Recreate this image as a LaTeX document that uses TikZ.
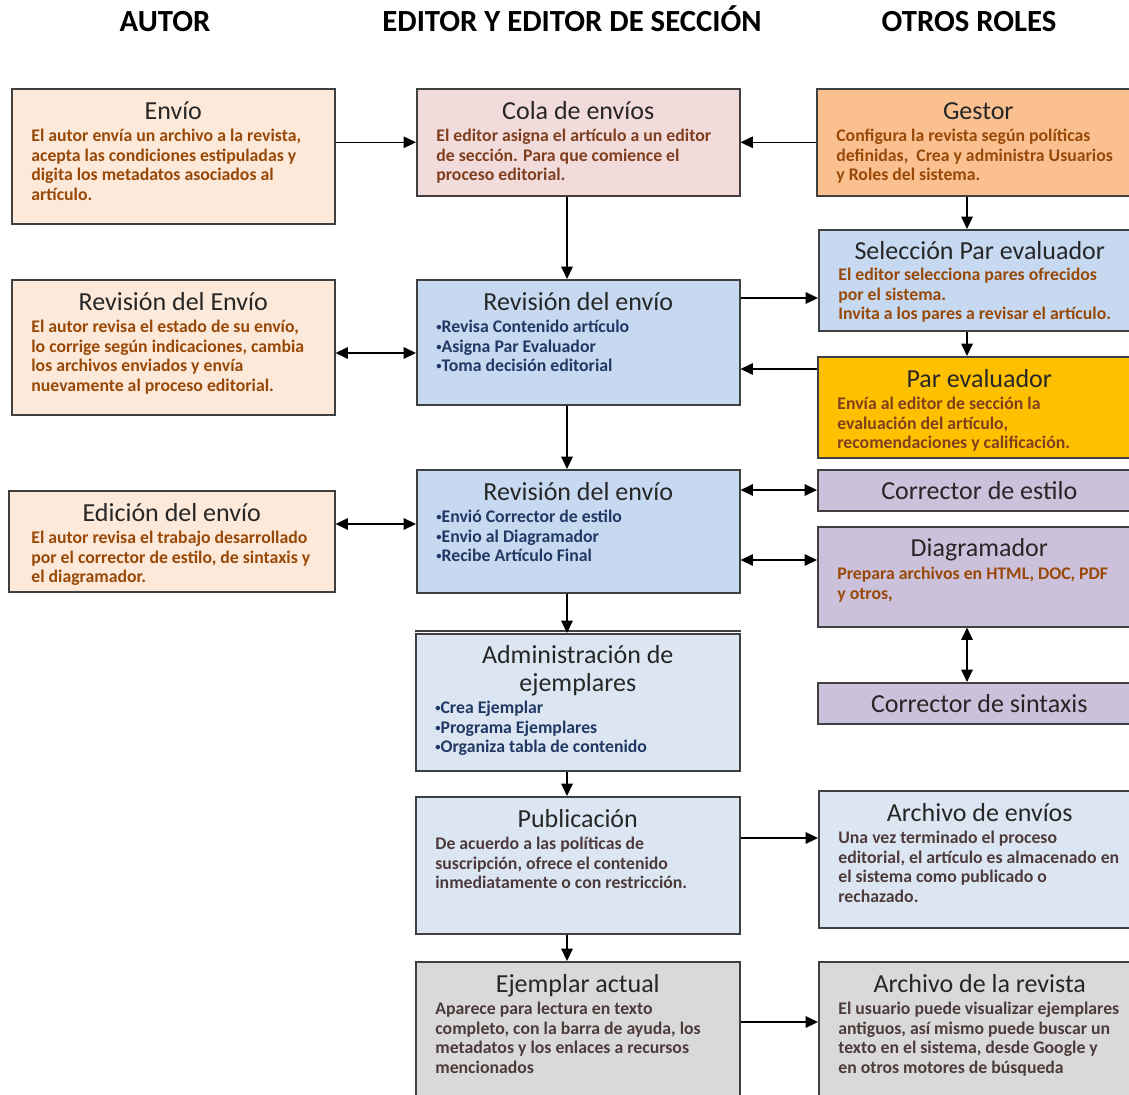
\documentclass[tikz,border=0pt]{standalone}
\usepackage{fontspec}
\setmainfont{Carlito}
\usepackage{tikz}
\usetikzlibrary{arrows.meta}
\definecolor{durazno}{HTML}{FDE9D9}
\definecolor{rosa}{HTML}{F2DCDB}
\definecolor{azul}{HTML}{C6D9F1}
\definecolor{azulclaro}{HTML}{DCE6F2}
\definecolor{naranja}{HTML}{FAC090}
\definecolor{ambar}{HTML}{FFC000}
\definecolor{lila}{HTML}{CCC1DA}
\definecolor{gris}{HTML}{D9D9D9}
\definecolor{borde}{HTML}{404040}
\definecolor{tinta}{HTML}{262626}
\definecolor{cafe}{HTML}{984807}
\definecolor{marron}{HTML}{7F3F1F}
\definecolor{marino}{HTML}{1F3864}
\definecolor{pardo}{HTML}{4D3B3B}
\newcommand{\fuentetitulo}{\fontsize{14.8}{16}\selectfont}
\newcommand{\fuentecuerpo}{\fontsize{10.1}{11.1}\selectfont\bfseries}
\newcommand{\vineta}{\raisebox{.25ex}{\fontsize{6}{6}\selectfont\textbullet}}

\begin{document}
\begin{tikzpicture}[x=0.02cm, y=-0.02cm,
    caja/.style={draw=borde, line width=0.9pt, anchor=north west, inner sep=0pt},
    titulo/.style={anchor=base, inner sep=0pt, text=tinta, font=\fuentetitulo},
    cuerpo/.style={anchor=north west, inner sep=0pt, align=left, font=\fuentecuerpo},
    encabezado/.style={anchor=base, font=\fontsize{17.5}{20}\selectfont\bfseries},
    flecha/.style={-{Triangle[length=7pt,width=6.5pt]}, line width=0.8pt},
    doble/.style={{Triangle[length=7pt,width=6.5pt]}-{Triangle[length=7pt,width=6.5pt]}, line width=0.8pt}]

    \useasboundingbox (0,0) rectangle (1129,1095);
    \clip (0,0) rectangle (1129,1095);

    % encabezados
    \node[encabezado] (autor) at (165,32) {AUTOR};
    \node[encabezado] (editor) at (572,32) {EDITOR Y EDITOR DE SECCIÓN};
    \node[encabezado] (otros) at (969,32) {OTROS ROLES};

    % columna del autor
    \node[caja, fill=durazno, minimum width=6.46cm, minimum height=2.7cm] (envio) at (11,88) {};
    \node[titulo] (envio-tit) at ([shift={(0,31)}]envio.north) {Envío};
    \node[cuerpo, text=cafe] (envio-txt) at ([shift={(20,41)}]envio.north west)
        {El autor envía un archivo a la revista,\\acepta las condiciones estipuladas y\\digita los metadatos asociados al\\artículo.};

    \node[caja, fill=durazno, minimum width=6.46cm, minimum height=2.7cm] (revautor) at (11,279) {};
    \node[titulo] (revautor-tit) at ([shift={(0,31)}]revautor.north) {Revisión del Envío};
    \node[cuerpo, text=cafe] (revautor-txt) at ([shift={(20,41)}]revautor.north west)
        {El autor revisa el estado de su envío,\\lo corrige según indicaciones, cambia\\los archivos enviados y envía\\nuevamente al proceso editorial.};

    \node[caja, fill=durazno, minimum width=6.52cm, minimum height=2.02cm] (edicion) at (8,490) {};
    \node[titulo] (edicion-tit) at ([shift={(0,31)}]edicion.north) {Edición del envío};
    \node[cuerpo, text=cafe] (edicion-txt) at ([shift={(23,41)}]edicion.north west)
        {El autor revisa el trabajo desarrollado\\por el corrector de estilo, de sintaxis y\\el diagramador.};

    % columna del editor
    \node[caja, fill=rosa, minimum width=6.46cm, minimum height=2.14cm] (cola) at (416,88) {};
    \node[titulo] (cola-tit) at ([shift={(0,31)}]cola.north) {Cola de envíos};
    \node[cuerpo, text=marron] (cola-txt) at ([shift={(20,41)}]cola.north west)
        {El editor asigna el artículo a un editor\\de sección. Para que comience el\\proceso editorial.};

    \node[caja, fill=azul, minimum width=6.46cm, minimum height=2.5cm] (revision) at (416,279) {};
    \node[titulo] (revision-tit) at ([shift={(0,31)}]revision.north) {Revisión del envío};
    \node[cuerpo, text=marino] (revision-txt) at ([shift={(20,41)}]revision.north west)
        {\vineta Revisa Contenido artículo\\\vineta Asigna Par Evaluador\\\vineta Toma decisión editorial};

    \node[caja, fill=azul, minimum width=6.46cm, minimum height=2.46cm] (revfinal) at (416,469) {};
    \node[titulo] (revfinal-tit) at ([shift={(0,31)}]revfinal.north) {Revisión del envío};
    \node[cuerpo, text=marino] (revfinal-txt) at ([shift={(20,41)}]revfinal.north west)
        {\vineta Envió Corrector de estilo\\\vineta Envio al Diagramador\\\vineta Recibe Artículo Final};

    \node[caja, fill=azulclaro, minimum width=6.48cm, minimum height=2.74cm] (admin) at (415,633) {};
    \draw[borde, line width=0.9pt] ([shift={(0,-2)}]admin.north west) -- ([shift={(0,-2)}]admin.north east);
    \node[titulo, anchor=north, align=center] (admin-tit) at ([shift={(0,12)}]admin.north) {Administración de\\ejemplares};
    \node[cuerpo, text=marino] (admin-txt) at ([shift={(20,68)}]admin.north west)
        {\vineta Crea Ejemplar\\\vineta Programa Ejemplares\\\vineta Organiza tabla de contenido};

    \node[caja, fill=azulclaro, minimum width=6.48cm, minimum height=2.74cm] (publicacion) at (415,796) {};
    \node[titulo] (publicacion-tit) at ([shift={(0,31)}]publicacion.north) {Publicación};
    \node[cuerpo, text=pardo] (publicacion-txt) at ([shift={(20,41)}]publicacion.north west)
        {De acuerdo a las políticas de\\suscripción, ofrece el contenido\\inmediatamente o con restricción.};

    \node[caja, fill=gris, minimum width=6.48cm, minimum height=2.9cm] (ejemplar) at (415,961) {};
    \node[titulo] (ejemplar-tit) at ([shift={(0,31)}]ejemplar.north) {Ejemplar actual};
    \node[cuerpo, text=pardo] (ejemplar-txt) at ([shift={(20,41)}]ejemplar.north west)
        {Aparece para lectura en texto\\completo, con la barra de ayuda, los\\metadatos y los enlaces a recursos\\mencionados};

    % otros roles
    \node[caja, fill=naranja, minimum width=6.46cm, minimum height=2.14cm] (gestor) at (816,88) {};
    \node[titulo] (gestor-tit) at ([shift={(0,31)}]gestor.north) {Gestor};
    \node[cuerpo, text=cafe] (gestor-txt) at ([shift={(20,41)}]gestor.north west)
        {Configura la revista según políticas\\definidas,\ \ Crea y administra Usuarios\\y Roles del sistema.};

    \node[caja, fill=azul, minimum width=6.44cm, minimum height=2.02cm] (seleccion) at (818,229) {};
    \node[titulo] (seleccion-tit) at ([shift={(0,30)}]seleccion.north) {Selección Par evaluador};
    \node[cuerpo, text=cafe] (seleccion-txt) at ([shift={(20,39)}]seleccion.north west)
        {El editor selecciona pares ofrecidos\\por el sistema.\\Invita a los pares a revisar el artículo.};

    \node[caja, fill=ambar, minimum width=6.46cm, minimum height=2.02cm] (par) at (817,356) {};
    \node[titulo] (par-tit) at ([shift={(0,31)}]par.north) {Par evaluador};
    \node[cuerpo, text=marron] (par-txt) at ([shift={(20,41)}]par.north west)
        {Envía al editor de sección la\\evaluación del artículo,\\recomendaciones y calificación.};

    \node[caja, fill=lila, minimum width=6.46cm, minimum height=0.82cm, text=tinta, font=\fuentetitulo] (estilo) at (817,469) {Corrector de estilo};

    \node[caja, fill=lila, minimum width=6.46cm, minimum height=2cm] (diagramador) at (817,526) {};
    \node[titulo] (diagramador-tit) at ([shift={(0,30)}]diagramador.north) {Diagramador};
    \node[cuerpo, text=cafe] (diagramador-txt) at ([shift={(20,41)}]diagramador.north west)
        {Prepara archivos en HTML, DOC, PDF\\y otros,};

    \node[caja, fill=lila, minimum width=6.46cm, minimum height=0.82cm, text=tinta, font=\fuentetitulo] (sintaxis) at (817,682) {Corrector de sintaxis};

    \node[caja, fill=azulclaro, minimum width=6.44cm, minimum height=2.74cm] (archivo) at (818,790) {};
    \node[titulo] (archivo-tit) at ([shift={(0,31)}]archivo.north) {Archivo de envíos};
    \node[cuerpo, text=pardo] (archivo-txt) at ([shift={(20,41)}]archivo.north west)
        {Una vez terminado el proceso\\editorial, el artículo es almacenado en\\el sistema como publicado o\\rechazado.};

    \node[caja, fill=gris, minimum width=6.44cm, minimum height=2.9cm] (historico) at (818,961) {};
    \node[titulo] (historico-tit) at ([shift={(0,31)}]historico.north) {Archivo de la revista};
    \node[cuerpo, text=pardo] (historico-txt) at ([shift={(20,41)}]historico.north west)
        {El usuario puede visualizar ejemplares\\antiguos, así mismo puede buscar un\\texto en el sistema, desde Google y\\en otros motores de búsqueda};

    % flechas
    \draw[flecha] (envio.east |- cola.west) -- (cola.west);
    \draw[flecha] (gestor.west) -- (cola.east);
    \draw[flecha] (cola.south -| 567,0) -- (revision.north -| 567,0);
    \draw[flecha] (revision.east |- 0,298) -- (seleccion.west |- 0,298);
    \draw[flecha] (gestor.south -| 967,0) -- (seleccion.north -| 967,0);
    \draw[flecha] (seleccion.south -| 967,0) -- (par.north -| 967,0);
    \draw[flecha] (par.west |- 0,369) -- (revision.east |- 0,369);
    \draw[doble] (revautor.east |- 0,353) -- (revision.west |- 0,353);
    \draw[flecha] (revision.south -| 567,0) -- (revfinal.north -| 567,0);
    \draw[doble] (edicion.east |- 0,524) -- (revfinal.west |- 0,524);
    \draw[doble] (revfinal.east |- 0,490) -- (estilo.west |- 0,490);
    \draw[doble] (revfinal.east |- 0,560) -- (diagramador.west |- 0,560);
    \draw[doble] (diagramador.south -| 967,0) -- (sintaxis.north -| 967,0);
    \draw[flecha] (revfinal.south -| 567,0) -- (admin.north -| 567,0);
    \draw[flecha] (admin.south -| 567,0) -- (publicacion.north -| 567,0);
    \draw[flecha] (publicacion.east |- 0,838) -- (archivo.west |- 0,838);
    \draw[flecha] (publicacion.south -| 567,0) -- (ejemplar.north -| 567,0);
    \draw[flecha] (ejemplar.east |- 0,1022) -- (historico.west |- 0,1022);

\end{tikzpicture}
\end{document}
